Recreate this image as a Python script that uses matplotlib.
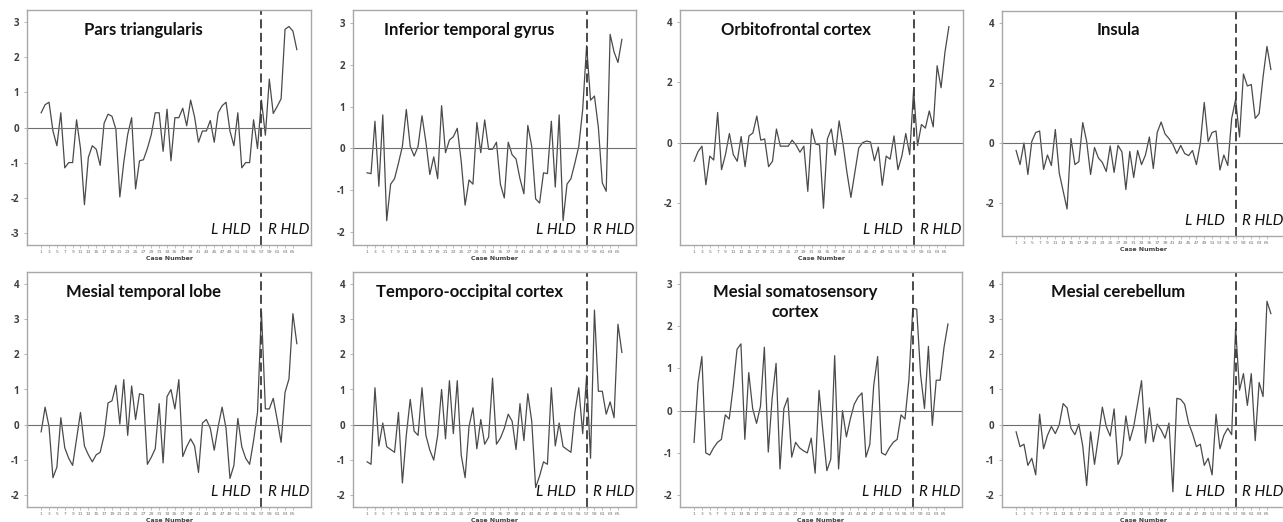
import matplotlib.pyplot as plt
import numpy as np

# case numbers 1..66, right HLD starts at case 57
cases = np.arange(1, 67)
split_case = 57

titles = ["Pars triangularis", "Inferior temporal gyrus", "Orbitofrontal cortex", "Insula",
          "Mesial temporal lobe", "Temporo-occipital cortex", "Mesial somatosensory\ncortex",
          "Mesial cerebellum"]

pars_tri = [0.42, 0.65, 0.72, -0.1, -0.52, 0.42, -1.15, -1.0, -1.0, 0.22,
            -0.6, -2.2, -0.85, -0.52, -0.62, -1.08, 0.12, 0.38, 0.32, -0.05,
            -1.98, -1.0, -0.2, 0.28, -1.75, -0.95, -0.92, -0.6, -0.2, 0.42,
            0.42, -0.68, 0.52, -0.95, 0.28, 0.28, 0.55, 0.05, 0.78, 0.3,
            -0.42, -0.1, -0.1, 0.2, -0.42, 0.42, 0.62, 0.72, -0.1, -0.52,
            0.42, -1.15, -1.0, -1.0, 0.22, -0.6, 0.78, -0.22, 1.38, 0.4,
            0.6, 0.82, 2.8, 2.88, 2.75, 2.22]
inf_temp = [-0.58, -0.6, 0.65, -0.9, 0.8, -1.72, -0.85, -0.72, -0.35, 0.05,
            0.93, 0.05, -0.18, 0.05, 0.78, 0.15, -0.62, -0.2, -0.72, 1.02,
            -0.1, 0.2, 0.28, 0.48, -0.3, -1.35, -0.75, -0.85, 0.62, -0.1,
            0.68, -0.02, -0.02, 0.15, -0.85, -1.18, 0.15, -0.15, -0.25, -0.72,
            -1.08, 0.55, 0.05, -1.2, -1.3, -0.58, -0.6, 0.65, -0.92, 0.8,
            -1.72, -0.85, -0.72, -0.35, 0.05, 0.93, 2.45, 1.15, 1.25, 0.5,
            -0.82, -1.02, 2.72, 2.3, 2.05, 2.6]
orbito = [-0.62, -0.3, -0.12, -1.4, -0.45, -0.58, 1.0, -0.9, -0.4, 0.3,
          -0.4, -0.62, 0.2, -0.8, 0.22, 0.32, 0.88, 0.08, 0.12, -0.8,
          -0.62, 0.45, -0.12, -0.12, -0.12, 0.08, -0.08, -0.32, -0.12, -1.62,
          0.45, -0.05, -0.08, -2.18, 0.12, 0.45, -0.42, 0.72, -0.05, -1.0,
          -1.82, -1.0, -0.18, 0.0, 0.05, 0.02, -0.6, -0.15, -1.42, -0.45,
          -0.55, 0.22, -0.9, -0.45, 0.3, -0.4, 1.75, -0.1, 0.6, 0.48,
          1.05, 0.52, 2.55, 1.82, 3.0, 3.85]
insula = [-0.25, -0.72, 0.0, -1.05, 0.05, 0.35, 0.4, -0.88, -0.4, -0.75,
          0.45, -1.0, -1.6, -2.2, 0.15, -0.72, -0.62, 0.68, 0.05, -1.05,
          -0.15, -0.5, -0.65, -0.95, -0.1, -0.98, -0.08, -0.3, -1.55, -0.28,
          -1.15, -0.25, -0.72, -0.4, 0.2, -0.85, 0.35, 0.7, 0.3, 0.15,
          -0.05, -0.35, -0.08, -0.35, -0.42, -0.25, -0.72, 0.0, 1.35, 0.05,
          0.35, 0.4, -0.9, -0.4, -0.75, 0.82, 1.45, 0.2, 2.3, 1.9,
          1.95, 0.82, 0.98, 2.2, 3.22, 2.45]
mesial_temp = [-0.2, 0.5, -0.05, -1.5, -1.2, 0.2, -0.65, -0.95, -1.15, -0.4,
               0.35, -0.6, -0.85, -1.05, -0.85, -0.78, -0.3, 0.62, 0.68, 1.12,
               0.02, 1.28, -0.3, 1.1, 0.15, 0.88, 0.85, -1.12, -0.92, -0.68,
               0.6, -1.08, 0.8, 1.0, 0.45, 1.28, -0.9, -0.62, -0.4, -0.6,
               -1.35, 0.05, 0.15, -0.1, -0.72, -0.05, 0.5, -0.1, -1.52, -1.15,
               0.18, -0.62, -0.95, -1.12, -0.45, 0.35, 3.22, 0.45, 0.45, 0.75,
               0.15, -0.5, 0.92, 1.3, 3.15, 2.3]
temp_occ = [-1.05, -1.12, 1.05, -0.6, 0.05, -0.62, -0.7, -0.78, 0.35, -1.65,
            -0.3, 0.72, -0.18, -0.3, 1.05, -0.3, -0.72, -1.0, -0.3, 1.0,
            -0.4, 1.25, -0.25, 1.25, -0.85, -1.5, -0.05, 0.48, -0.68, 0.15,
            -0.55, -0.35, 1.32, -0.55, -0.38, -0.1, 0.3, 0.1, -0.7, 0.6,
            -0.45, 0.88, 0.1, -1.78, -1.45, -1.05, -1.12, 1.05, -0.6, 0.05,
            -0.62, -0.7, -0.78, 0.35, 1.05, -0.25, 1.4, -0.95, 3.25, 0.95,
            0.95, 0.3, 0.65, 0.2, 2.85, 2.05]
somato = [-0.75, 0.65, 1.28, -1.0, -1.05, -0.88, -0.75, -0.68, -0.1, -0.2,
          0.55, 1.45, 1.58, -0.68, 0.9, 0.05, -0.3, 0.1, 1.5, -0.98,
          0.3, 1.12, -1.38, 0.05, 0.3, -1.1, -0.75, -0.88, -0.95, -1.0,
          -0.65, -1.48, 0.48, -0.5, -1.42, -1.15, 1.3, -1.38, 0.0, -0.62,
          -0.2, 0.15, 0.32, 0.42, -1.1, -0.8, 0.6, 1.28, -1.0, -1.05,
          -0.88, -0.75, -0.68, -0.1, -0.2, 0.72, 2.42, 2.4, 0.85, 0.05,
          1.52, -0.35, 0.72, 0.72, 1.5, 2.05]
cerebellum = [-0.2, -0.62, -0.55, -1.15, -0.95, -1.42, 0.3, -0.68, -0.3, -0.05,
              -0.25, 0.0, 0.6, 0.48, -0.1, -0.28, 0.02, -0.6, -1.72, -0.2,
              -1.12, -0.35, 0.5, -0.05, -0.32, 0.45, -1.12, -0.85, 0.25, -0.45,
              -0.05, 0.6, 1.25, -0.52, 0.48, -0.48, 0.02, -0.15, -0.38, 0.05,
              -1.9, 0.75, 0.72, 0.58, 0.05, -0.25, -0.62, -0.55, -1.15, -0.95,
              -1.42, 0.3, -0.68, -0.3, -0.1, -0.28, 2.75, 0.98, 1.45, 0.55,
              1.45, -0.45, 1.2, 0.8, 3.5, 3.15]

series = [pars_tri, inf_temp, orbito, insula, mesial_temp, temp_occ, somato, cerebellum]
ylims = [(-3.35, 3.35), (-2.3, 3.3), (-3.4, 4.4), (-3.1, 4.4),
         (-2.33, 4.33), (-2.33, 4.33), (-2.28, 3.28), (-2.33, 4.33)]
yticks = [[-3, -2, -1, 0, 1, 2, 3], [-2, -1, 0, 1, 2, 3], [-2, 0, 2, 4], [-2, 0, 2, 4],
          [-2, -1, 0, 1, 2, 3, 4], [-2, -1, 0, 1, 2, 3, 4], [-2, -1, 0, 1, 2, 3], [-2, -1, 0, 1, 2, 3, 4]]

W, H = 1283, 522
# axes boxes in pixels: left, top, right, bottom
boxes = [(27, 10, 311, 245), (353, 10, 636, 245), (680, 10, 963, 245), (1002, 11, 1285, 236),
         (27, 272, 311, 507), (353, 272, 636, 507), (680, 272, 962, 507), (1002, 272, 1285, 507)]

fig = plt.figure(figsize=(W / 100, H / 100), dpi=100)
line_col = '#4a4a4a'
spine_col = '#a8a8a8'

for i in range(8):
    l, t, r, b = boxes[i]
    ax = fig.add_axes([l / W, 1 - b / H, (r - l) / W, (b - t) / H])
    ax.plot(cases, series[i], color=line_col, lw=0.9)
    ax.axhline(0, color='#6e6e6e', lw=0.8)
    ax.axvline(split_case, color='#3a3a3a', lw=1.3, ls=(0, (5, 2.5)))
    ax.set_xlim(-2.6, 69.6)
    ax.set_ylim(*ylims[i])
    ax.set_yticks(yticks[i])
    ax.set_yticklabels([str(v) for v in yticks[i]], fontsize=7, fontweight='bold', color='#404040',
                       family='Open Sans')
    xt = np.arange(1, 66, 2)
    ax.set_xticks(xt)
    ax.set_xticklabels([str(v) for v in xt], fontsize=3.2, color='#707070')
    ax.tick_params(axis='y', length=2.5, width=0.6, color=spine_col, pad=3)
    ax.tick_params(axis='x', length=2, width=0.5, color=spine_col, pad=1.5)
    for s in ax.spines.values():
        s.set_color(spine_col)
        s.set_linewidth(1.0)
    ax.set_xlabel('Case Number', fontsize=4.5, fontweight='bold', color='#404040', labelpad=1.5)
    ax.text(0.41, 0.95, titles[i], transform=ax.transAxes, ha='center', va='top',
            fontsize=12, fontweight='bold', family='Lato', color='#111111',
            linespacing=1.3)
    ybase = ylims[i][0] + 0.035 * (ylims[i][1] - ylims[i][0])
    ax.text(split_case - 2.8, ybase, 'L HLD',
            ha='right', va='bottom', fontsize=11, style='italic', family='Lato', color='#111111')
    ax.text(split_case + 1.6, ybase, 'R HLD',
            ha='left', va='bottom', fontsize=11, style='italic', family='Lato', color='#111111')

fig.savefig('out.png', dpi=100)
